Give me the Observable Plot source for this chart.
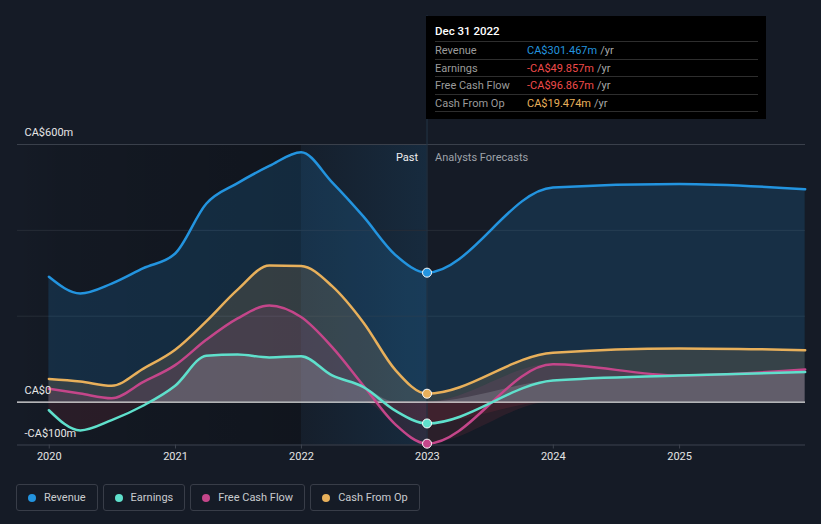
<!DOCTYPE html>
<html>
<head>
<meta charset="utf-8">
<script src="https://cdn.jsdelivr.net/npm/d3@7"></script>
<script src="https://cdn.jsdelivr.net/npm/@observablehq/plot@0.6"></script>
<style>
  html, body { margin: 0; padding: 0; background: #151b26; }
  body { width: 821px; height: 524px; overflow: hidden; font-family: Roboto, "Noto Sans", sans-serif; }
  #wrap { position: relative; width: 821px; height: 524px; }
  #chart { position: absolute; left: 0; top: 0; }
  #tip { position: absolute; left: 426px; top: 16px; width: 340px; height: 103px; background: #000; box-sizing: border-box; padding: 7px 8px 0 9px; }
  #tip .title { color: #fff; font-size: 11.5px; font-weight: 500; height: 18px; line-height: 16px; border-bottom: 1px solid #2e2e2e; }
  #tip .row { display: flex; font-size: 11px; height: 16.5px; line-height: 17px; border-bottom: 1px solid #2e2e2e; }
  #tip .lab { width: 92px; color: #9b9b9b; }
  #tip .unit { color: #a8a8a8; margin-left: 3px; }
  #legend { position: absolute; left: 16px; top: 484px; display: flex; gap: 5px; }
  #legend .item { display: flex; align-items: center; height: 27px; box-sizing: border-box; border: 1px solid #383d48; border-radius: 3px; padding: 0 11px; font-size: 11px; color: #c9cbcf; }
  #legend .dot { width: 8px; height: 8px; border-radius: 50%; margin-right: 8px; }
</style>
</head>
<body>
<div id="wrap">
  <div id="chart"></div>
  <div id="tip"></div>
  <div id="legend"></div>
</div>
<script>
// ---- data ----
const seriesNames = ["Revenue", "Earnings", "Free Cash Flow", "Cash From Op"];
const seriesColors = ["#2394df", "#5fe0cc", "#c4468a", "#e8b05b"];
const pastDates = ["2019-12-31","2020-03-31","2020-06-30","2020-09-30","2020-12-31","2021-03-31","2021-06-30","2021-09-30","2021-12-31","2022-03-31","2022-06-30","2022-09-30","2022-12-31"];
const forecastDates = ["2023-12-31","2024-12-31","2025-12-31"];
const revenue = [292, 253, 276, 312, 346, 462, 510, 550, 582, 512, 432, 343, 301.467, 500, 508, 496];
const earnings = [-19, -66, -42, -8, 38, 108, 111, 104, 107, 62, 35, -20, -49.857, 50, 62, 70];
const freeCashFlow = [31, 20, 9, 47, 86, 145, 195, 225, 198, 128, 38, -52, -96.867, 88, 62, 76];
const cashFromOp = [54, 48, 38, 78, 122, 188, 262, 318, 317, 270, 185, 75, 19.474, 115, 125, 121];
const tipDate = "Dec 31 2022";
const tipValues = ["CA$301.467m", "-CA$49.857m", "-CA$96.867m", "CA$19.474m"];
const tipValueColors = ["#2394df", "#ef4b4b", "#ef4b4b", "#e8b05b"];
const yTickValues = [600, 0, -100];
const yTickLabels = ["CA$600m", "CA$0", "-CA$100m"];
const gridValues = [200, 400, 600];
const xTickYears = ["2020", "2021", "2022", "2023", "2024", "2025"];
const xDomain = ["2019-10-01", "2026-01-01"];
const pastStart = "2022-01-01", nowDate = "2022-12-31";

// ---- build ----
const allDates = pastDates.concat(forecastDates).map(d => new Date(d));
const valuesBySeries = [revenue, earnings, freeCashFlow, cashFromOp];
const rows = [];
valuesBySeries.forEach((vals, si) => vals.forEach((v, i) => rows.push({series: seriesNames[si], date: allDates[i], value: v})));
const bySeries = s => rows.filter(r => r.series === s);
const nowIdx = pastDates.length - 1;
const nowRows = valuesBySeries.map((vals, si) => ({series: seriesNames[si], date: allDates[nowIdx], value: vals[nowIdx], color: seriesColors[si]}));
const yLabelRows = yTickValues.map((v, i) => ({v, label: yTickLabels[i]}));

const areaFill = {"Revenue": ["#2394df", 0.17], "Earnings": ["#e6eef2", 0.16], "Free Cash Flow": ["#c4468a", 0.13], "Cash From Op": ["#e8b05b", 0.15]};
const areaOrder = ["Revenue", "Cash From Op", "Free Cash Flow", "Earnings"];

const marks = [];
marks.push(Plot.rect([{x1: new Date(xDomain[0]), x2: new Date(pastStart)}], {x1: "x1", x2: "x2", y1: -100, y2: 600, fill: "#010101"}));
marks.push(Plot.rect([{x1: new Date(pastStart), x2: new Date(nowDate)}], {x1: "x1", x2: "x2", y1: -100, y2: 600, fill: "#020202"}));
marks.push(Plot.ruleY(gridValues, {stroke: d => d === 600 ? "#3a404b" : "#262c37", strokeWidth: 1}));
marks.push(Plot.ruleY([-100], {stroke: "#3d434e", strokeWidth: 1}));
for (const s of areaOrder) {
  const data = bySeries(s);
  marks.push(Plot.areaY(data, {x: "date", y1: 0, y2: d => Math.max(d.value, 0), fill: areaFill[s][0], fillOpacity: areaFill[s][1], curve: "monotone-x"}));
  if (data.some(d => d.value < 0)) {
    marks.push(Plot.areaY(data, {x: "date", y1: 0, y2: d => Math.min(d.value, 0), fill: "#e2404f", fillOpacity: 0.11, curve: "monotone-x"}));
  }
}
marks.push(Plot.ruleX([new Date(nowDate)], {y1: -100, y2: 900, stroke: "#233447", strokeWidth: 1}));
marks.push(Plot.ruleY([0], {stroke: "#e8e8e8", strokeWidth: 1.2}));
["Cash From Op", "Free Cash Flow", "Earnings", "Revenue"].forEach(s => {
  marks.push(Plot.line(bySeries(s), {x: "date", y: "value", stroke: seriesColors[seriesNames.indexOf(s)], strokeWidth: 2.5, curve: "monotone-x"}));
});
marks.push(Plot.dot(nowRows, {x: "date", y: "value", fill: "color", stroke: "#ffffff", strokeWidth: 1, r: 4.5}));
marks.push(Plot.text(yLabelRows, {y: "v", text: "label", frameAnchor: "left", dx: 7, dy: -12, textAnchor: "start", fill: "#e6e6e6", fontSize: 11}));
marks.push(Plot.text(["Past"], {x: () => new Date(nowDate), y: () => 600, text: d => d, dx: -9, dy: 13, textAnchor: "end", fill: "#eeeeee", fontSize: 11}));
marks.push(Plot.text(["Analysts Forecasts"], {x: () => new Date(nowDate), y: () => 600, text: d => d, dx: 8, dy: 13, textAnchor: "start", fill: "#9ea2a9", fontSize: 11}));

const svg = Plot.plot({
  width: 821,
  height: 470,
  marginLeft: 17,
  marginRight: 16,
  marginTop: 144,
  marginBottom: 25.5,
  style: {background: "transparent", color: "#e4e4e4", fontFamily: "Roboto, sans-serif", fontSize: "11px", overflow: "visible"},
  x: {type: "utc", domain: xDomain.map(d => new Date(d)), ticks: xTickYears.map(y => new Date(y + "-01-01")), tickFormat: d3.utcFormat("%Y"), tickSize: 4, tickPadding: 3, label: null},
  y: {domain: [-100, 600], axis: null},
  marks
});
document.getElementById("chart").appendChild(svg);

// gradients
const root = d3.select(svg);
const defs = root.insert("defs", ":first-child");
const g1 = defs.append("linearGradient").attr("id", "gDark").attr("x1", "0").attr("x2", "1").attr("y1", "0").attr("y2", "0");
g1.append("stop").attr("offset", "0").attr("stop-color", "#000").attr("stop-opacity", 0.0);
g1.append("stop").attr("offset", "0.15").attr("stop-color", "#000").attr("stop-opacity", 0.08);
g1.append("stop").attr("offset", "1").attr("stop-color", "#000").attr("stop-opacity", 0.22);
const g2 = defs.append("linearGradient").attr("id", "gPast").attr("x1", "0").attr("x2", "1").attr("y1", "0").attr("y2", "0");
g2.append("stop").attr("offset", "0").attr("stop-color", "#2394df").attr("stop-opacity", 0.03);
g2.append("stop").attr("offset", "1").attr("stop-color", "#2394df").attr("stop-opacity", 0.13);
root.selectAll('[fill="#010101"]').attr("fill", "url(#gDark)");
root.selectAll('[fill="#020202"]').attr("fill", "url(#gPast)");
root.selectAll("[aria-label='x-axis tick'], [aria-label='x-axis'] path").attr("stroke", "#3d434e");

// tooltip
const tip = d3.select("#tip");
tip.append("div").attr("class", "title").text(tipDate);
seriesNames.forEach((s, i) => {
  const r = tip.append("div").attr("class", "row");
  r.append("span").attr("class", "lab").text(s);
  r.append("span").style("color", tipValueColors[i]).text(tipValues[i]);
  r.append("span").attr("class", "unit").text("/yr");
});

// legend
const leg = d3.select("#legend");
seriesNames.forEach((s, i) => {
  const it = leg.append("div").attr("class", "item");
  it.append("span").attr("class", "dot").style("background", seriesColors[i]);
  it.append("span").text(s);
});
</script>
</body>
</html>
